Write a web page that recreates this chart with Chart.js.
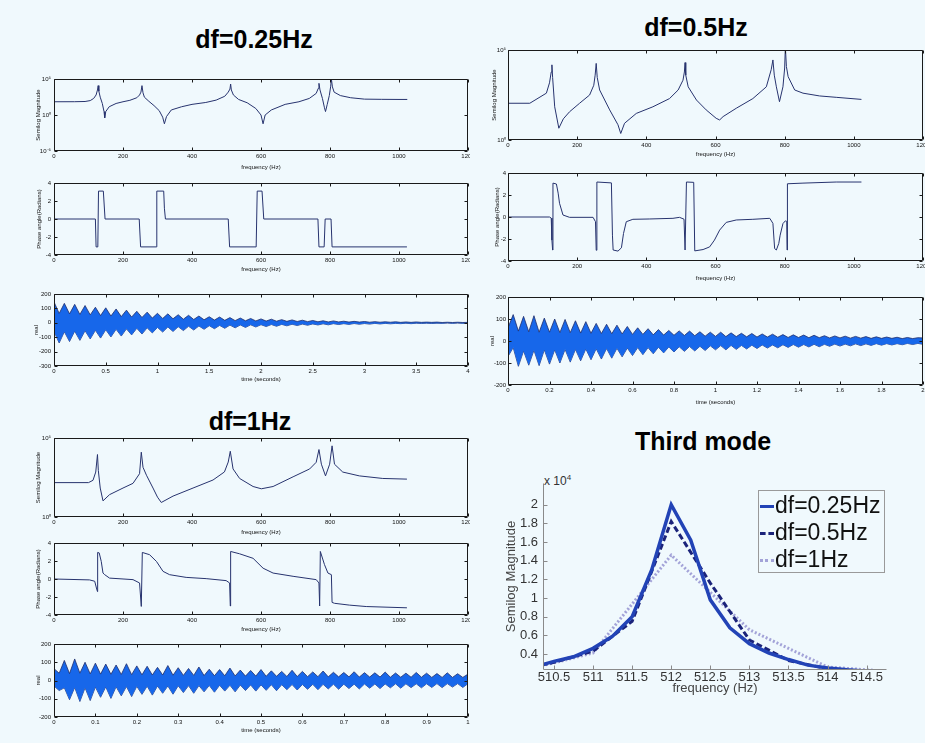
<!DOCTYPE html>
<html><head><meta charset="utf-8"><title>df comparison</title>
<script src="https://cdn.jsdelivr.net/npm/chart.js@4.4.1/dist/chart.umd.min.js"></script>
<style>
html,body{margin:0;padding:0;background:#f0f9fd;}
body{width:925px;height:743px;position:relative;overflow:hidden;font-family:"Liberation Sans",Arial,Helvetica,sans-serif;}
canvas{position:absolute;display:block;}
.ttl{position:absolute;font-weight:bold;font-size:25px;line-height:25px;color:#000;white-space:nowrap;transform:translateX(-50%);}
#legend{position:absolute;left:758px;top:490px;width:125px;height:81px;border:1px solid #9a9a9a;}
.lg{position:absolute;left:1px;font-size:23px;line-height:23px;color:#111;white-space:nowrap;}
.lg i{display:inline-block;width:14px;height:0;vertical-align:middle;margin-right:1px;}
#mult{position:absolute;left:544px;top:472px;font-size:12px;line-height:12px;color:#333;}
#mult sup{font-size:8px;}
</style></head><body>
<div class="ttl" style="left:254px;top:27px">df=0.25Hz</div>
<div class="ttl" style="left:696px;top:15px">df=0.5Hz</div>
<div class="ttl" style="left:250px;top:409px">df=1Hz</div>
<div class="ttl" style="left:703px;top:429px">Third mode</div>
<div id="mult">x 10<sup>4</sup></div>
<script>
// ---------- DATA ----------
// df = 0.25 Hz : semilog magnitude
const freqA = [0,60,90,105,115,122,126,128,130,134,140,145,147,150,160,180,200,220,240,248,252,255,258,262,275,290,305,315,320,326,340,370,400,440,470,495,505,510,512,514,520,535,560,585,600,606,612,630,670,710,740,760,766,768,771,778,784,787,792,798,802,804,807,812,830,860,900,950,1000,1024];
const magA  = [69,70,75,100,200,600,3000,12000,2000,300,40,3,0.4,3,14,40,69,110,250,600,1500,12000,1200,300,80,20,4,0.5,0.06,0.6,5,14,30,55,117,400,1500,4000,20000,3000,600,145,50,8,1,0.06,1,5,30,69,200,1000,5000,25000,3000,200,10,3,30,500,10000,100000,8000,1500,500,250,160,150,145,145];
// df = 0.5 Hz : semilog magnitude
const freqB = [0,63,111,120,125,127,129,135,147,160,178,207,236,248,252,255,258,265,294,318,326,337,371,419,467,492,506,510,512,514,521,545,573,602,612,622,660,708,747,761,766,770,776,785,795,800,802,805,810,829,853,901,949,1022];
const magB  = [110,110,400,1500,6000,15000,3000,70,4.5,15,37,110,316,1100,4000,18000,3000,600,47,7,2.3,8.5,30,70,200,600,2100,6000,20000,4000,900,166,47,16,13,20,58,200,900,8000,28000,4000,900,134,900,10000,150000,12000,3300,600,400,280,235,180];
// df = 1 Hz : semilog magnitude
const freqC = [0,100,113,121,126,128.5,134,142,161,200,229,248,253,258,268,287,300,311,345,403,461,494,505,511,519,538,577,601,635,693,741,760,768,775,787,799,806,813,837,885,953,1023];
const magC  = [150,150,210,700,9000,870,68,10.5,26,68,135,550,12600,1400,440,68,18,8.3,21,68,220,710,3000,14500,1100,275,85,61,85,350,1100,2900,18600,2200,400,2200,32000,2200,700,400,275,250];

// phase angles (radians)
const phFreqA = [0,120,122,127,129,143,148,247,251,296,298,318,320,323,505,509,586,589,603,608,765,768,783,786,803,806,1023];
const phaseA  = [0,0,-3.1,-3.1,3.1,3.1,0,0,-3.1,-3.1,3.1,3.1,1.2,0,0,-3.1,-3.1,3.1,3.1,0,0,-3.1,-3.1,0,0,-3.1,-3.1];
const phFreqB = [0,120,125,127,129,130,140,145,149,159,178,246,253,255,257,299,302,304,318,328,334,342,361,410,477,496,509,512,516,537,540,564,583,597,612,631,660,708,757,766,771,776,783,787,795,802,806,807,808,853,949,1022];
const phaseB  = [0,0,-0.1,-2.1,-3.0,3.08,3.0,2.17,1.25,0.18,-0.03,-0.03,-0.43,-3.02,3.18,3.1,-1.65,-3.0,-3.1,-2.8,-1.5,-0.43,-0.21,-0.18,-0.12,-0.03,-0.2,-3.0,3.18,3.15,-3.08,-2.96,-2.72,-2.1,-1.19,-0.49,-0.27,-0.21,-0.12,-0.58,-2.87,-3.0,-2.4,-1.65,-0.6,-0.35,-0.4,-3.0,3.02,3.08,3.18,3.18];
const phFreqC = [0,103,118,123,126,126.5,131,137,142,147,161,229,248,253,256,277,297,316,335,383,441,499,509,511,512,538,577,606,635,693,760,768,770,772,784,794,804,806,813,856,905,1023];
const phaseC  = [0,-0.1,-0.25,-1.0,-1.4,2.95,2.9,1.95,0.66,0.48,0.1,-0.07,-0.44,-3.05,2.95,2.7,1.95,0.85,0.48,0.18,0.04,-0.18,-0.44,-3.0,3.06,2.8,2.3,1.2,0.66,0.3,-0.07,-0.44,-3.0,3.06,1.6,0.66,0.48,-2.6,-2.7,-2.9,-3.06,-3.2];

// time signals (real part): upper and lower edges, sampled on a uniform grid
const stepA = 0.05;   // seconds, df=0.25Hz record (0..4 s)
const upperA = [145,65,135,62,128,58,120,55,108,50,104,47,96,43,88,40,80,37,74,33,66,30,62,28,56,25,52,23,47,21,42,19,40,17,36,15,33,14,30,13,27,12,25,11,22,10,20,9,18,8,16,7,14,6,13,6,11,5,10,5,9,4,8,4,7,4,7,3,6,3,6,3,5,3,5,2,4,2,4,2,3];
const lowerA = [-60,-140,-62,-130,-58,-122,-55,-112,-52,-106,-48,-98,-45,-92,-42,-84,-38,-78,-35,-70,-32,-64,-29,-60,-27,-54,-24,-50,-22,-45,-20,-41,-18,-38,-16,-35,-15,-32,-14,-29,-13,-26,-12,-24,-11,-21,-10,-19,-9,-17,-8,-15,-7,-14,-6,-12,-6,-11,-5,-10,-5,-9,-4,-8,-4,-7,-4,-6,-3,-6,-3,-5,-3,-5,-3,-4,-2,-4,-2,-4,-2];
const stepB = 0.025;  // df=0.5Hz record (0..2 s)
const upperB = [60,120,45,112,42,115,40,104,40,100,38,98,38,92,36,88,35,80,34,76,33,72,32,66,30,60,30,56,28,52,27,48,26,46,25,45,24,42,22,40,21,40,20,37,20,35,19,34,18,32,18,31,17,29,16,28,16,27,15,26,15,24,14,23,14,22,13,21,13,20,12,19,12,18,12,17,11,16,11,15,14];
const lowerB = [-70,-30,-115,-45,-110,-42,-112,-40,-105,-40,-100,-38,-96,-38,-90,-36,-85,-35,-82,-34,-78,-33,-72,-32,-66,-30,-62,-30,-58,-28,-54,-27,-50,-26,-47,-25,-45,-24,-43,-22,-40,-21,-40,-20,-38,-20,-36,-19,-34,-18,-32,-18,-31,-17,-29,-16,-28,-16,-27,-15,-26,-15,-24,-14,-23,-14,-22,-13,-21,-13,-20,-12,-19,-12,-18,-12,-17,-11,-16,-11,-15];
const stepC = 0.0125; // df=1Hz record (0..1 s)
const upperC = [65,40,110,38,118,40,100,36,95,35,90,34,85,33,92,32,80,31,78,30,72,30,82,29,70,28,66,28,74,27,62,26,60,26,68,25,57,24,55,24,60,23,53,23,50,22,56,22,50,21,47,21,52,20,45,20,44,20,48,19,43,19,42,19,46,18,41,18,40,18,44,18,40,17,38,17,42,17,37,17,35];
const lowerC = [-30,-55,-40,-105,-38,-115,-40,-110,-36,-92,-35,-98,-34,-84,-33,-88,-32,-76,-31,-80,-30,-70,-30,-75,-29,-66,-28,-70,-28,-62,-27,-64,-26,-58,-26,-62,-25,-55,-24,-58,-24,-54,-23,-56,-23,-50,-22,-52,-22,-48,-21,-50,-21,-46,-20,-48,-20,-44,-20,-46,-19,-42,-19,-44,-19,-40,-18,-42,-18,-39,-18,-40,-18,-38,-17,-39,-17,-36,-17,-38,-17];

// third mode zoom (magnitude, linear)
const tmFreq25 = [510.25,510.5,510.75,511,511.25,511.5,511.75,512,512.25,512.5,512.75,513,513.25,513.5,513.75,514,514.25,514.5];
const tmMag25  = [2600,3200,3700,4600,5900,8000,13000,20000,16200,9800,6800,5100,4100,3400,2800,2500,2300,2150];
const tmFreq05 = [510,510.5,511,511.5,512,512.5,513,513.5,514,514.5];
const tmMag05  = [2200,3100,4300,7500,18200,11600,5500,3300,2400,2000];
const tmFreq1  = [510,511,512,513,514,515];
const tmMag1   = [2000,4100,14600,6600,2600,2000];
const seriesLabels = ['df=0.25Hz','df=0.5Hz','df=1Hz'];

// tick values
const freqTicks = [0,200,400,600,800,1000,1200];
const magTicksA = [1e-5,1,1e5];
const magTicksBC = [1,1e5];
const phaseTicks = [-4,-2,0,2,4];
const realTicksA = [-300,-200,-100,0,100,200];
const realTicksBC = [-200,-100,0,100,200];
const timeTicksA = [0,0.5,1,1.5,2,2.5,3,3.5,4];
const timeTicksB = [0,0.2,0.4,0.6,0.8,1,1.2,1.4,1.6,1.8,2];
const timeTicksC = [0,0.1,0.2,0.3,0.4,0.5,0.6,0.7,0.8,0.9,1];
const tmTicksX = [510.5,511,511.5,512,512.5,513,513.5,514,514.5];
const tmTicksY = [4000,6000,8000,10000,12000,14000,16000,18000,20000];

// ---------- RENDERING ----------
Chart.defaults.font.family = '"Liberation Sans", Arial, sans-serif';
Chart.defaults.color = '#111';
Chart.defaults.animation = false;

const mbox = {id:'mbox', afterDatasetsDraw(chart, args, o){
  if(!o || !o.on) return;
  const {ctx, chartArea:a, scales:{x, y}} = chart;
  const L = o.len || 3;
  ctx.save(); ctx.strokeStyle = o.color || '#1a1a1a'; ctx.lineWidth = 1;
  const l = Math.round(a.left)+0.5, r = Math.round(a.right)-0.5, t = Math.round(a.top)+0.5, b = Math.round(a.bottom)-0.5;
  ctx.beginPath();
  if(o.mode === 'lb'){ ctx.moveTo(l,t); ctx.lineTo(l,b); ctx.lineTo(r,b); }
  else { ctx.rect(l,t,r-l,b-t); }
  x.ticks.forEach(tk=>{ const p=Math.round(x.getPixelForValue(tk.value))+0.5;
    ctx.moveTo(p,b); ctx.lineTo(p,b-L); if(o.mode!=='lb'){ ctx.moveTo(p,t); ctx.lineTo(p,t+L);} });
  y.ticks.forEach(tk=>{ const p=Math.round(y.getPixelForValue(tk.value))+0.5;
    ctx.moveTo(l,p); ctx.lineTo(l+L,p); if(o.mode!=='lb'){ ctx.moveTo(r,p); ctx.lineTo(r-L,p);} });
  ctx.stroke(); ctx.restore();
}};
Chart.register(mbox);

const SUP = {'-':'\u207B','0':'\u2070','1':'\u00B9','2':'\u00B2','3':'\u00B3','4':'\u2074','5':'\u2075','6':'\u2076','7':'\u2077','8':'\u2078','9':'\u2079'};
const pow10 = v => '10' + String(Math.round(Math.log10(v))).split('').map(c=>SUP[c]).join('');
const zip = (xs, ys) => xs.map((v,i)=>({x:v, y:ys[i]}));
const onGrid = (vals, step) => vals.map((v,i)=>({x:+(i*step).toFixed(5), y:v}));
const setTicks = arr => (axis => { axis.ticks = arr.map(v=>({value:v})); });
const plain = v => String(+Number(v).toFixed(4));

function makeCanvas(box, yw, xh, pt, pr){
  const c = document.createElement('canvas');
  const W = Math.round(box.r-box.l+yw+pr), H = Math.round(box.b-box.t+pt+xh);
  c.width = W; c.height = H;
  Object.assign(c.style, {left:Math.round(box.l-yw)+'px', top:Math.round(box.t-pt)+'px', width:W+'px', height:H+'px'});
  document.body.appendChild(c);
  return c;
}

function smallPlot(box, lay, datasets, xo, yo, xTitle, yTitle){
  const pt = lay.pt ?? 4, pr = lay.pr ?? 2;
  const c = makeCanvas(box, lay.yw, lay.xh, pt, pr);
  const f = {size:6};
  return new Chart(c, {type:'line', data:{datasets}, options:{
    responsive:false, animation:false, devicePixelRatio:1,
    layout:{padding:{top:pt, right:pr, left:0, bottom:0}},
    plugins:{legend:{display:false}, tooltip:{enabled:false}, mbox:{on:true}},
    elements:{point:{radius:0}, line:{tension:0}},
    scales:{
      x:{type:'linear', min:xo.min, max:xo.max, afterBuildTicks:setTicks(xo.ticks),
        grid:{display:false, drawTicks:false}, border:{display:false},
        ticks:{font:f, padding:2, maxRotation:0, autoSkip:false, color:'#111', callback:plain},
        title:{display:true, text:xTitle, font:f, padding:0, color:'#111'},
        afterFit:s=>{ s.height = lay.xh; s.paddingLeft = 0; s.paddingRight = 0; }},
      y:{type:yo.type||'linear', min:yo.min, max:yo.max, afterBuildTicks:setTicks(yo.ticks),
        grid:{display:false, drawTicks:false}, border:{display:false},
        ticks:{font:f, padding:lay.tp ?? 3, color:'#111', callback: yo.type==='logarithmic' ? (v=>pow10(v)) : plain},
        title:{display:true, text:yTitle, font:f, padding:0, color:'#111'},
        afterFit:s=>{ s.width = lay.yw; s.paddingTop = 0; s.paddingBottom = 0; }}
    }}});
}

const LINE = '#27336e';
const spec = (fx, my) => [{data:zip(fx,my), borderColor:LINE, borderWidth:1, fill:false}];
const band = (up, lo, step) => [
  {data:onGrid(up,step), borderColor:'#1f2d6b', borderWidth:0.8, backgroundColor:'#1767ea', fill:'+1'},
  {data:onGrid(lo,step), borderColor:'#1f2d6b', borderWidth:0.8, fill:false}];

const FQ = 'frequency (Hz)', SM = 'Semilog Magnitude', PA = 'Phase angle(Radians)', TS = 'time (seconds)';
const fx = {min:0, max:1200, ticks:freqTicks};

// df=0.25Hz column
smallPlot({l:54,t:79,r:468,b:151}, {yw:19,xh:20}, spec(freqA,magA), fx, {type:'logarithmic',min:1e-5,max:1e5,ticks:magTicksA}, FQ, SM);
smallPlot({l:54,t:183,r:468,b:255}, {yw:18,xh:18}, spec(phFreqA,phaseA), fx, {min:-4,max:4,ticks:phaseTicks}, FQ, PA);
smallPlot({l:54,t:294,r:468,b:366}, {yw:21,xh:17}, band(upperA,lowerA,stepA), {min:0,max:4,ticks:timeTicksA}, {min:-300,max:200,ticks:realTicksA}, TS, 'real');
// df=1Hz column
smallPlot({l:54,t:438,r:468,b:517}, {yw:19,xh:19}, spec(freqC,magC), fx, {type:'logarithmic',min:1,max:1e5,ticks:magTicksBC}, FQ, SM);
smallPlot({l:54,t:543,r:468,b:615}, {yw:19,xh:18}, spec(phFreqC,phaseC), fx, {min:-4,max:4,ticks:phaseTicks}, FQ, PA);
smallPlot({l:54,t:644,r:468,b:717}, {yw:19,xh:17}, band(upperC,lowerC,stepC), {min:0,max:1,ticks:timeTicksC}, {min:-200,max:200,ticks:realTicksBC}, TS, 'real');
// df=0.5Hz column
smallPlot({l:508,t:50,r:923,b:140}, {yw:17,xh:18,tp:2}, spec(freqB,magB), fx, {type:'logarithmic',min:1,max:1e5,ticks:magTicksBC}, FQ, SM);
smallPlot({l:508,t:173,r:923,b:261}, {yw:14,xh:21,tp:2}, spec(phFreqB,phaseB), fx, {min:-4,max:4,ticks:phaseTicks}, FQ, PA);
smallPlot({l:508,t:297,r:923,b:385}, {yw:19,xh:21,tp:2}, band(upperB,lowerB,stepB), {min:0,max:2,ticks:timeTicksB}, {min:-200,max:200,ticks:realTicksBC}, TS, 'real');

// Third mode
(function(){
  const box = {l:543,t:483,r:887,b:670}, yw = 39, xh = 26, pt = 10, pr = 10;
  const c = makeCanvas(box, yw, xh, pt, pr);
  const f = {size:13};
  new Chart(c, {type:'line', data:{datasets:[
      {label:seriesLabels[0], data:zip(tmFreq25,tmMag25), borderColor:'#2243b6', borderWidth:3.5, fill:false},
      {label:seriesLabels[1], data:zip(tmFreq05,tmMag05), borderColor:'#1b237a', borderWidth:3, borderDash:[6,3], fill:false},
      {label:seriesLabels[2], data:zip(tmFreq1,tmMag1), borderColor:'#a3a3d8', borderWidth:3, borderDash:[2,2], fill:false}]},
    options:{responsive:false, animation:false, devicePixelRatio:1,
      layout:{padding:{top:pt, right:pr, left:0, bottom:0}},
      plugins:{legend:{display:false}, tooltip:{enabled:false}, mbox:{on:true, mode:'lb', color:'#8a8a8a', len:4}},
      elements:{point:{radius:0}, line:{tension:0}},
      scales:{
        x:{type:'linear', min:510.36, max:514.76, afterBuildTicks:setTicks(tmTicksX),
          grid:{display:false, drawTicks:false}, border:{display:false},
          ticks:{font:f, padding:0, maxRotation:0, autoSkip:false, color:'#333', callback:plain},
          title:{display:true, text:'frequency (Hz)', font:f, padding:0, color:'#444'},
          afterFit:s=>{ s.height = xh; s.paddingLeft = 0; s.paddingRight = 0; }},
        y:{type:'linear', min:2280, max:22330, afterBuildTicks:setTicks(tmTicksY),
          grid:{display:false, drawTicks:false}, border:{display:false},
          ticks:{font:f, padding:5, color:'#333', callback:v=>String(+(v/1e4).toFixed(1))},
          title:{display:true, text:'Semilog Magnitude', font:f, padding:0, color:'#444'},
          afterFit:s=>{ s.width = yw; s.paddingTop = 0; s.paddingBottom = 0; }}
      }}});
  // legend built from the series labels
  const lg = document.createElement('div'); lg.id = 'legend';
  const styles = ['3px solid #2243b6','3px dashed #1b237a','3px dotted #a3a3d8'];
  seriesLabels.forEach((s,i)=>{
    const row = document.createElement('div'); row.className = 'lg'; row.style.top = (2.5 + 27*i) + 'px';
    const sw = document.createElement('i'); sw.style.borderTop = styles[i];
    row.appendChild(sw); row.appendChild(document.createTextNode(s)); lg.appendChild(row);
  });
  document.body.appendChild(lg);
})();
</script>
</body></html>
